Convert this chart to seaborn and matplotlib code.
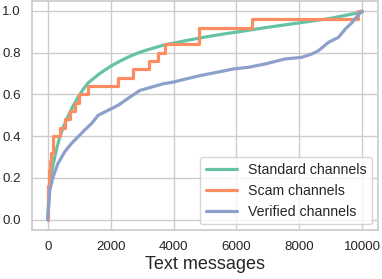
import pandas as pd
import numpy as np
import seaborn as sns
import matplotlib.pyplot as plt

# standard channels (smooth curve)
std_x = [0, 30, 64, 140, 223, 300, 382, 500, 646, 800, 966, 1120, 1284, 1650, 2000, 2300,
         2611, 3000, 3672, 4500, 5000, 5600, 6274, 7000, 8000, 9000, 10000]
std_y = [0, 0.09, 0.16, 0.24, 0.30, 0.35, 0.395, 0.445, 0.495, 0.543, 0.587, 0.623, 0.655,
         0.70, 0.735, 0.76, 0.783, 0.806, 0.836, 0.861, 0.875, 0.89, 0.905, 0.922, 0.943,
         0.965, 0.995]

# scam channels (step curve)
scam_x = [0, 10, 40, 80, 117, 170, 400, 560, 720, 880, 1000, 1280, 2220, 2720, 3220,
          3520, 3740, 4800, 6490, 9880, 10000]
scam_y = [0, 0.16, 0.24, 0.28, 0.32, 0.40, 0.44, 0.48, 0.52, 0.56, 0.60, 0.64, 0.68, 0.72,
          0.76, 0.80, 0.84, 0.92, 0.96, 1.0, 1.0]

# verified channels
ver_x = [0, 64, 170, 329, 541, 754, 966, 1178, 1391, 1603, 1921, 2240, 2640, 2930, 3300,
         3672, 3990, 4417, 4840, 5372, 5900, 6380, 6911, 7548, 8080, 8398, 8610, 8928,
         9246, 9459, 9671, 9936, 10000]
ver_y = [0, 0.14, 0.205, 0.27, 0.325, 0.365, 0.397, 0.43, 0.46, 0.50, 0.524, 0.548, 0.59,
         0.619, 0.635, 0.651, 0.659, 0.675, 0.69, 0.706, 0.722, 0.73, 0.746, 0.77, 0.778,
         0.794, 0.81, 0.85, 0.874, 0.913, 0.944, 0.992, 1.0]

sns.set_theme(style='whitegrid')
plt.rcParams['font.family'] = ['Liberation Sans', 'DejaVu Sans']
colors = sns.color_palette('Set2', 3)

fig, ax = plt.subplots(figsize=(3.82, 2.79), dpi=100)
fig.subplots_adjust(left=32/382, right=378/382, top=0.998, bottom=1-230/279)

sns.lineplot(x=std_x, y=std_y, ax=ax, color=colors[0], linewidth=2.3, label='Standard channels')
sns.lineplot(x=scam_x, y=scam_y, ax=ax, color=colors[1], linewidth=2.3, drawstyle='steps-post',
             label='Scam channels')
sns.lineplot(x=ver_x, y=ver_y, ax=ax, color=colors[2], linewidth=2.3, label='Verified channels')

ax.set_xticks([0, 2000, 4000, 6000, 8000, 10000])
ax.set_yticks([0.0, 0.2, 0.4, 0.6, 0.8, 1.0])
ax.tick_params(labelsize=9.6, pad=2)
ax.set_xlabel('Text messages', fontsize=13, labelpad=2)
ax.legend(loc='lower right', fontsize=10.2, handlelength=2.2, borderaxespad=0.4)

fig.savefig('out.png', dpi=100)
